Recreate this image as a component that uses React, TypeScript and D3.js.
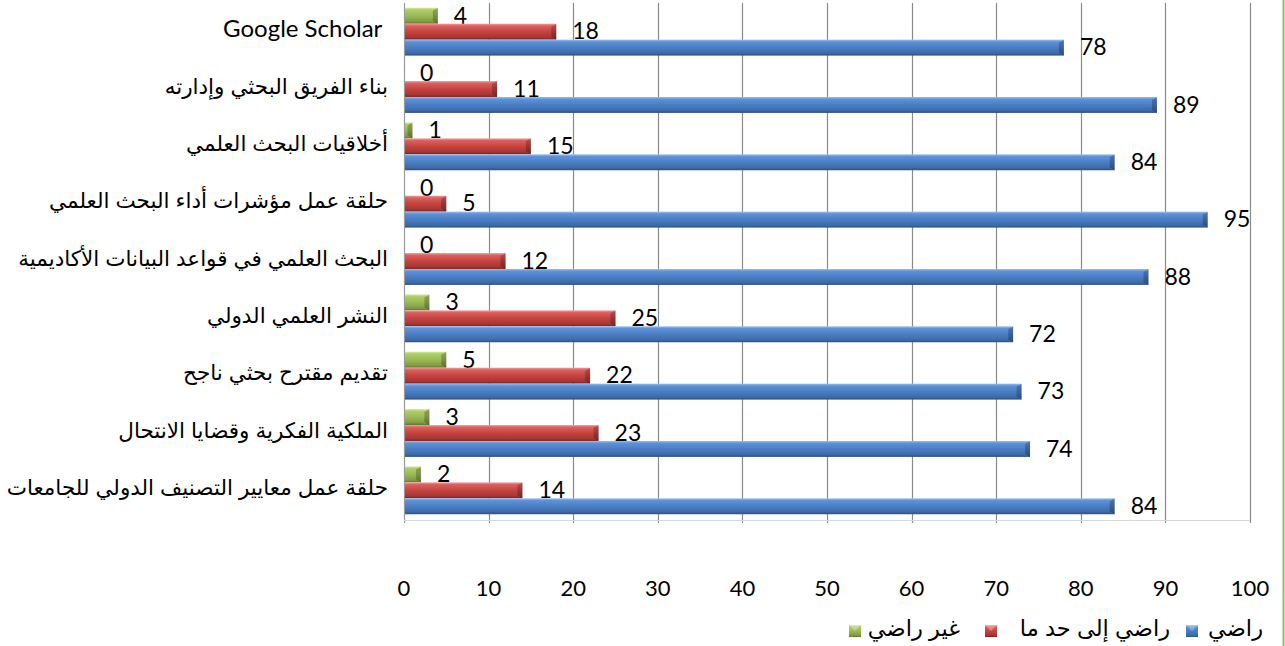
import React from "react";
import * as d3 from "d3";

const categories = [
  "Google Scholar ",
  "بناء الفريق البحثي وإدارته",
  "أخلاقيات البحث العلمي",
  "حلقة عمل مؤشرات أداء البحث العلمي",
  "البحث العلمي في قواعد البيانات الأكاديمية",
  "النشر العلمي الدولي",
  "تقديم مقترح بحثي ناجح",
  "الملكية الفكرية وقضايا الانتحال",
  "حلقة عمل معايير التصنيف الدولي للجامعات",
];
const satisfied = [78, 89, 84, 95, 88, 72, 73, 74, 84];
const somewhat = [18, 11, 15, 5, 12, 25, 22, 23, 14];
const notSatisfied = [4, 0, 1, 0, 0, 3, 5, 3, 2];
const xTicks = [0, 10, 20, 30, 40, 50, 60, 70, 80, 90, 100];
const seriesNames = ["راضي", "راضي إلى حد ما", "غير راضي"];

const W = 1285;
const H = 646;

const gradients = [
  { id: "gBlue", stops: ["#9cc0ee", "#5e92d8", "#4a7ec4", "#3c6aa7", "#2a4f80"] },
  { id: "gRed", stops: ["#f0a09e", "#dc605d", "#c5433f", "#a73633", "#772220"] },
  { id: "gGreen", stops: ["#d3e9a0", "#aecd66", "#9aba57", "#7f9c42", "#5d752f"] },
];
const offsets = [0, 0.14, 0.5, 0.86, 1];

export default function App() {
  const x = d3.scaleLinear().domain([0, 100]).range([404, 1250]);
  const y = d3.scaleBand<string>().domain(categories).range([3, 519]).padding(0);
  const step = y.bandwidth();
  const bh = step * 0.278;
  const pad = (step - 3 * bh) / 2;

  // order within group: green (top), red, blue (bottom)
  const series = [
    { vals: notSatisfied, grad: "gGreen", slot: 0 },
    { vals: somewhat, grad: "gRed", slot: 1 },
    { vals: satisfied, grad: "gBlue", slot: 2 },
  ];

  const numFont = "Lato, 'Open Sans', sans-serif";
  const arFont = "'Liberation Sans', 'DejaVu Sans', sans-serif";

  const legendItems = [
    { name: seriesNames[0], grad: "gBlue", boxX: 1186, textRight: 1263 },
    { name: seriesNames[1], grad: "gRed", boxX: 985, textRight: 1170 },
    { name: seriesNames[2], grad: "gGreen", boxX: 849, textRight: 960 },
  ];

  return (
    <svg
      width={W}
      height={H}
      style={{ position: "absolute", left: 0, top: 0, background: "#fff" }}
    >
      <defs>
        {gradients.map((g) => (
          <linearGradient key={g.id} id={g.id} x1="0" y1="0" x2="0" y2="1">
            {g.stops.map((c, i) => (
              <stop key={i} offset={offsets[i]} stopColor={c} />
            ))}
          </linearGradient>
        ))}
      </defs>

      {/* gridlines */}
      {xTicks.map((t) => (
        <line
          key={t}
          x1={Math.round(x(t)) + 0.5}
          x2={Math.round(x(t)) + 0.5}
          y1={3}
          y2={523}
          stroke={t === 0 ? "#9a9a9a" : "#8a8a8a"}
          strokeWidth={1.2}
        />
      ))}
      <line x1={404} x2={1250} y1={520.5} y2={520.5} stroke="#d8d8d8" strokeWidth={1} />

      {/* bars */}
      {series.map((s) =>
        categories.map((c, i) => {
          const v = s.vals[i];
          const y0 = (y(c) as number) + pad + s.slot * bh;
          const x0 = x(0) + 1;
          const x1 = x(v);
          const w = Math.max(0, x1 - x0);
          return (
            <g key={s.grad + i}>
              {w > 0 && (
                <>
                  <rect x={x0} y={y0} width={w} height={bh} fill={`url(#${s.grad})`} />
                  <polygon
                    points={`${x1 - Math.min(5, w)},${y0 + 3} ${x1},${y0} ${x1},${y0 + bh} ${x1 - Math.min(5, w)},${y0 + bh - 3}`}
                    fill="#000"
                    opacity={0.22}
                  />
                </>
              )}
              <text
                x={x1 + 16}
                y={y0 + bh / 2 + 2}
                dominantBaseline="middle"
                fontFamily={numFont}
                fontSize={23}
                fill="#000"
              >
                {v}
              </text>
            </g>
          );
        })
      )}

      {/* category labels */}
      {categories.map((c) => (
        <text
          key={c}
          x={388}
          y={(y(c) as number) + step / 2 - 1}
          textAnchor="end"
          dominantBaseline="middle"
          fontFamily={c.startsWith("Google") ? numFont : arFont}
          fontSize={c.startsWith("Google") ? 24 : 21.5}
          fill="#000"
          xmlSpace="preserve"
          style={{ whiteSpace: "pre" }}
        >
          {c}
        </text>
      ))}

      {/* x tick labels */}
      {xTicks.map((t) => (
        <text
          key={t}
          x={x(t)}
          y={590}
          textAnchor="middle"
          dominantBaseline="middle"
          fontFamily={numFont}
          fontSize={22}
          fill="#000"
        >
          {t}
        </text>
      ))}

      {/* legend */}
      {legendItems.map((it) => (
        <g key={it.name}>
          <rect x={it.boxX} y={625} width={12} height={12} fill={`url(#${it.grad})`} />
          <polygon
            points={`${it.boxX},${625} ${it.boxX + 12},${625} ${it.boxX + 6},${631}`}
            fill="#fff"
            opacity={0.3}
          />
          <text
            x={it.textRight}
            y={630}
            textAnchor="end"
            dominantBaseline="middle"
            fontFamily={arFont}
            fontSize={22.5}
            fill="#000"
          >
            {it.name}
          </text>
        </g>
      ))}

      {/* right frame border */}
      <line x1={1283.5} x2={1283.5} y1={0} y2={H} stroke="#9bbb59" strokeWidth={2} />
    </svg>
  );
}
